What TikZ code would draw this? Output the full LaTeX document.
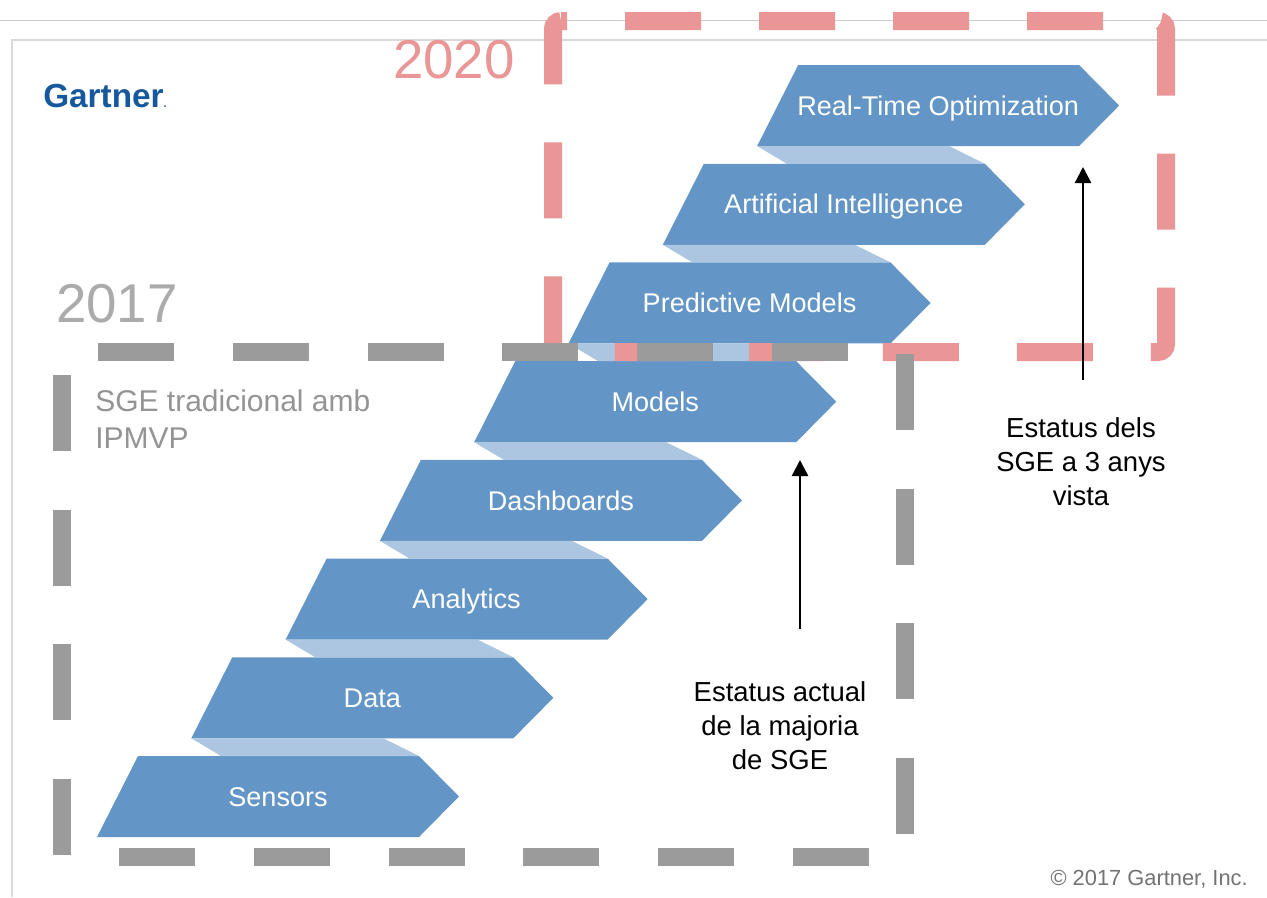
\documentclass[tikz,border=0pt]{standalone}
\usepackage{fontspec}
\setmainfont{Liberation Sans}
\usetikzlibrary{positioning,arrows.meta,backgrounds}

\definecolor{stepblue}{RGB}{99,150,198}
\definecolor{bandblue}{RGB}{172,198,226}
\definecolor{pinkline}{RGB}{234,150,150}
\definecolor{grayline}{RGB}{155,155,155}
\definecolor{gartnerblue}{RGB}{22,88,158}

% chevron around a step label, band between a lower and an upper step
\newcommand{\chevronfill}[1]{\fill[stepblue] ([shift={(-181,40.5)}]#1.center) -- ++(41,-81) -- ++(281,0) -- ++(40,40.5) -- ++(-40,40.5) -- cycle;}
\newcommand{\bandfill}[2]{\fill[bandblue] ([shift={(-181,40.5)}]#2.center) -- ++(192,0) -- ([shift={(141,-40.5)}]#1.center) -- ([shift={(-57,-40.5)}]#1.center) -- cycle;}

\begin{document}
\begin{tikzpicture}[x=0.75pt, y=-0.75pt,
                    steplabel/.style={text=white, font=\fontsize{20.3}{24}\selectfont, inner sep=0pt, text height=14.5pt, text depth=0pt, on grid},
                    statustext/.style={align=center, font=\fontsize{20.6}{25.5}\selectfont, inner sep=0pt, anchor=north},
                    statusarrow/.style={-{Triangle[width=12pt,length=12pt]}, line width=1.8pt}
                ]
                    \useasboundingbox (0,0) rectangle (1267,897);

                    \node[steplabel] (sensors) at (278,796.5) {Sensors};
                    \node[steplabel] (data) [above right=74.03pt and 70.73pt of sensors] {Data};
                    \node[steplabel] (analytics) [above right=74.03pt and 70.73pt of data] {Analytics};
                    \node[steplabel] (dashboards) [above right=74.03pt and 70.73pt of analytics] {Dashboards};
                    \node[steplabel] (models) [above right=74.03pt and 70.73pt of dashboards] {Models};
                    \node[steplabel] (predictive) [above right=74.03pt and 70.73pt of models] {Predictive Models};
                    \node[steplabel] (ai) [above right=74.03pt and 70.73pt of predictive] {Artificial Intelligence};
                    \node[steplabel] (realtime) [above right=74.03pt and 70.73pt of ai] {Real-Time Optimization};

                    \begin{scope}[on background layer]
                        \fill[white] (0,0) rectangle (1267,897);
                        \draw[black!20, line width=0.75pt] (0,20) -- (1267,20);
                        \draw[black!15, line width=1.2pt] (12,897) -- (12,40) -- (1267,40);
                        \chevronfill{sensors}
                        \chevronfill{data}
                        \chevronfill{analytics}
                        \chevronfill{dashboards}
                        \chevronfill{models}
                        \chevronfill{predictive}
                        \chevronfill{ai}
                        \chevronfill{realtime}
                        \bandfill{sensors}{data}
                        \bandfill{data}{analytics}
                        \bandfill{analytics}{dashboards}
                        \bandfill{dashboards}{models}
                        \bandfill{models}{predictive}
                        \bandfill{predictive}{ai}
                        \bandfill{ai}{realtime}
                    \end{scope}

                    % 2020 and 2017 frames
                    \draw[pinkline, line width=13.5pt, dash pattern=on 57pt off 43.5pt, dash phase=52.5pt, rounded corners=6pt] (553,21) -- (1166,21) -- (1166,352) -- (553,352) -- cycle;
                    \draw[grayline, line width=13.5pt, dash pattern=on 57pt off 44.1pt, dash phase=74.1pt] (62,352) -- (905,352) -- (905,857) -- (62,857) -- cycle;

                    \node[text=pinkline, font=\fontsize{41}{41}\selectfont, anchor=base, inner sep=0pt] (yearnext) at (454,78) {2020};
                    \node[text=black!33, font=\fontsize{41}{41}\selectfont, anchor=base, inner sep=0pt] (yearnow) at (117,322) {2017};
                    \node[text=gartnerblue, font=\fontsize{25}{25}\selectfont\bfseries, anchor=base west, inner sep=0pt] (logo) at (43,107) {Gartner{\fontsize{8}{8}\selectfont.}};
                    \node[text=black!42, font=\fontsize{22.5}{27.75}\selectfont, align=left, anchor=north west, inner sep=0pt] (traditional) at (95,389) {SGE tradicional amb\\IPMVP};
                    \node[statustext] (actual) at (780,681) {Estatus actual\\de la majoria\\de SGE};
                    \node[statustext] (future) at (1081,417) {Estatus dels\\SGE a 3 anys\\vista};
                    \node[text=black!55, font=\fontsize{16.4}{18}\selectfont, anchor=base east, inner sep=0pt] (copyright) at (1248,885) {© 2017 Gartner, Inc.};

                    \coordinate (actualtip) at (800,460);
                    \coordinate (futuretip) at (1083,167);
                    \draw[statusarrow, shorten <=39pt] (actual.north -| actualtip) -- (actualtip);
                    \draw[statusarrow, shorten <=28pt] (future.north -| futuretip) -- (futuretip);
                \end{tikzpicture}
\end{document}
